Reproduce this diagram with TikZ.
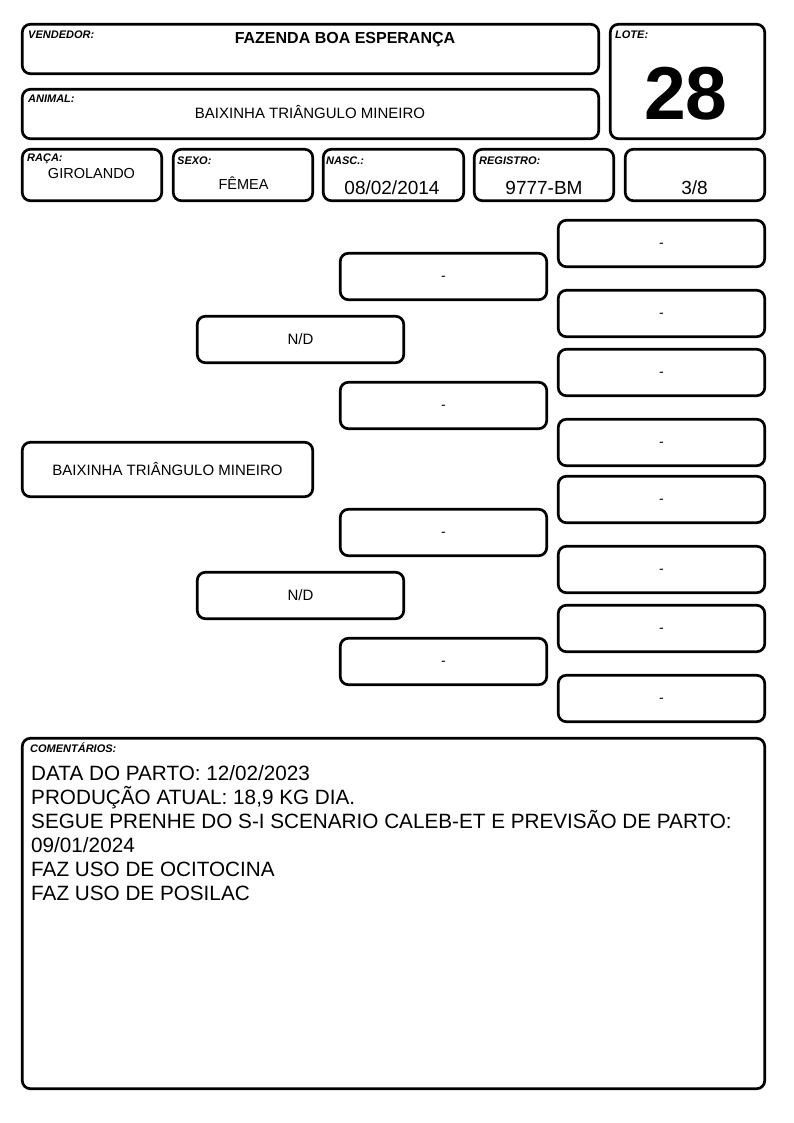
\documentclass[tikz,border=0pt]{standalone}
\usepackage{fontspec}
\setmainfont{Liberation Sans}
\begin{document}
\begin{tikzpicture}[x=1pt,y=-1pt,
  box/.style={draw, line width=2.7pt, rounded corners=8pt, inner sep=0pt},
  lbl/.style={font=\fontsize{11}{12}\selectfont\bfseries\itshape, anchor=base west, inner sep=0pt},
  val/.style={anchor=base, inner sep=0pt},
  ped/.style={box, minimum width=206.4pt, minimum height=46.4pt, font=\fontsize{15}{18}\selectfont, text height=10.7pt, text depth=0pt},
  emptyped/.style={box, minimum width=206.4pt, minimum height=46.4pt, font=\fontsize{14}{16}\selectfont, text height=7.6pt, text depth=0pt}
]
\fill[white] (0,0) rectangle (794,1123);
\path[use as bounding box] (0,0) rectangle (794,1123);

% header boxes
\node[box, minimum width=576.4pt, minimum height=49.4pt] (vend) at (310.5,49) {};
\node[box, minimum width=576.4pt, minimum height=49.4pt] (anim) at (310.5,114) {};
\node[box, minimum width=154.4pt, minimum height=114.4pt] (lote) at (687.5,81.5) {};
\node[box, minimum width=139.4pt, minimum height=51.4pt] (raca) at (92,175) {};
\node[box, minimum width=139.4pt, minimum height=51.4pt] (sexo) at (243,175) {};
\node[box, minimum width=140.4pt, minimum height=51.4pt] (nasc) at (393.5,175) {};
\node[box, minimum width=139.4pt, minimum height=51.4pt] (reg) at (544,175) {};
\node[box, minimum width=139.4pt, minimum height=51.4pt] (frac) at (695,175) {};

% labels
\node[lbl] (lvend) at (28,39) {VENDEDOR:};
\node[lbl] (lanim) at (28,103) {ANIMAL:};
\node[lbl] (llote) at (615,39) {LOTE:};
\node[lbl] (lraca) at (27,162) {RAÇA:};
\node[lbl] (lsexo) at (177,165) {SEXO:};
\node[lbl] (lnasc) at (326,165) {NASC.:};
\node[lbl] (lreg) at (479,165) {REGISTRO:};

% values
\node[val, font=\fontsize{16}{18}\selectfont\bfseries] (tvend) at (345,43.3) {FAZENDA BOA ESPERANÇA};
\node[val, font=\fontsize{15}{18}\selectfont] (tanim) at (310,119) {BAIXINHA TRIÂNGULO MINEIRO};
\node[val, font=\fontsize{75}{80}\selectfont\bfseries] (tlote) at (686,120) {28};
\node[val, font=\fontsize{14.5}{17}\selectfont] (traca) at (91.5,178.3) {GIROLANDO};
\node[val, font=\fontsize{14.5}{17}\selectfont] (tsexo) at (243.5,189.3) {FÊMEA};
\node[val, font=\fontsize{19}{21}\selectfont] (tnasc) at (392,194.3) {08/02/2014};
\node[val, font=\fontsize{19}{21}\selectfont] (treg) at (544,194.3) {9777-BM};
\node[val, font=\fontsize{19}{21}\selectfont] (tfrac) at (694.5,194.3) {3/8};

% pedigree
\node[box, minimum width=290.4pt, minimum height=54.4pt, font=\fontsize{15}{18}\selectfont] (main) at (167.5,469.5) {BAIXINHA TRIÂNGULO MINEIRO};
\node[ped] (s) at (300.5,339.5) {N/D};
\node[ped] (d) at (300.5,595.5) {N/D};
\node[emptyped] (ss) at (443.5,276.5) {-};
\node[emptyped] (sd) at (443.5,405.5) {-};
\node[emptyped] (ds) at (443.5,532.5) {-};
\node[emptyped] (dd) at (443.5,661.5) {-};
\node[emptyped] (sss) at (661.5,243.5) {-};
\node[emptyped] (ssd) at (661.5,313.5) {-};
\node[emptyped] (sds) at (661.5,372.5) {-};
\node[emptyped] (sdd) at (661.5,442.5) {-};
\node[emptyped] (dss) at (661.5,499.5) {-};
\node[emptyped] (dsd) at (661.5,569.5) {-};
\node[emptyped] (dds) at (661.5,628.5) {-};
\node[emptyped] (ddd) at (661.5,698.5) {-};

% comments
\node[box, minimum width=742.4pt, minimum height=350.4pt] (com) at (393.5,913.5) {};
\node[lbl] (lcom) at (30,752) {COMENTÁRIOS:};
\node[anchor=north west, align=left, inner sep=0pt, font=\fontsize{20.7}{24}\selectfont] (tcom) at (31,765.5)
 {DATA DO PARTO: 12/02/2023\\PRODUÇÃO ATUAL: 18,9 KG DIA.\\SEGUE PRENHE DO S-I SCENARIO CALEB-ET E PREVISÃO DE PARTO:\\09/01/2024\\FAZ USO DE OCITOCINA\\FAZ USO DE POSILAC};
\end{tikzpicture}
\end{document}
